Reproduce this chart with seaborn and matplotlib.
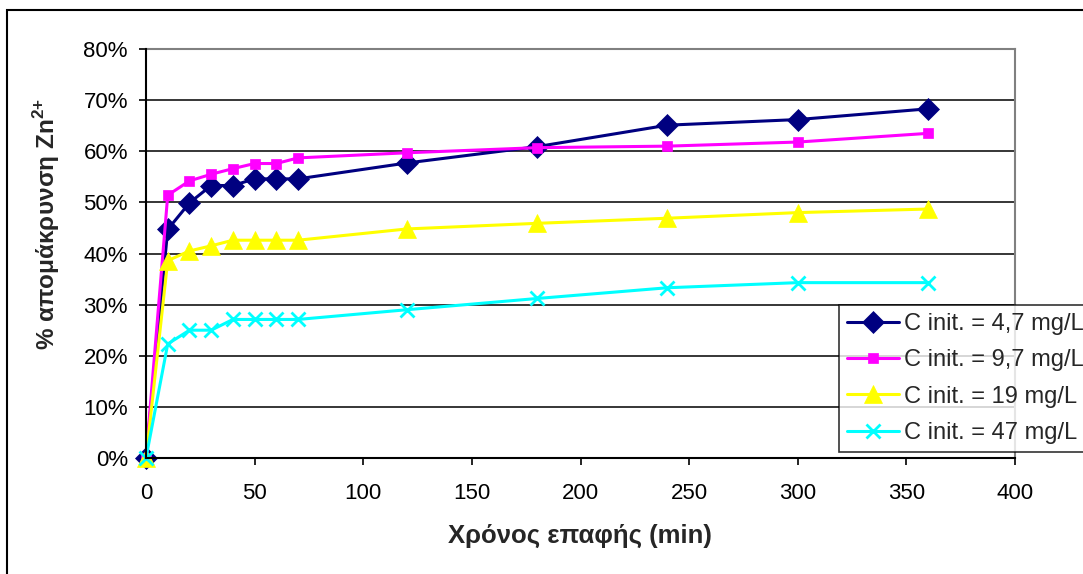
import matplotlib
matplotlib.use("Agg")
import matplotlib.pyplot as plt
import seaborn as sns
import numpy as np
from matplotlib.patches import Rectangle
from matplotlib.ticker import FuncFormatter

sns.set_theme(style="white")
plt.rcParams['font.family'] = ['Liberation Sans', 'DejaVu Sans']
plt.rcParams['mathtext.fontset'] = 'custom'
plt.rcParams['mathtext.rm'] = 'Liberation Sans'
plt.rcParams['mathtext.bf'] = 'Liberation Sans:bold'

time_min = [0, 10, 20, 30, 40, 50, 60, 70, 120, 180, 240, 300, 360]
c_4_7 = [0.0, 44.7, 49.9, 53.3, 53.3, 54.6, 54.6, 54.6, 57.7, 60.9, 65.1, 66.2, 68.3]
c_9_7 = [0.0, 51.4, 54.2, 55.5, 56.6, 57.6, 57.6, 58.7, 59.7, 60.7, 61.0, 61.8, 63.5]
c_19 = [0.0, 38.6, 40.5, 41.5, 42.6, 42.6, 42.6, 42.6, 44.8, 45.9, 46.9, 48.0, 48.7]
c_47 = [0.0, 22.3, 25.0, 25.0, 27.1, 27.1, 27.1, 27.1, 29.0, 31.2, 33.3, 34.3, 34.3]
labels = ["C init. = 4,7 mg/L", "C init. = 9,7 mg/L", "C init. = 19 mg/L", "C init. = 47 mg/L"]
x_ticks = [0, 50, 100, 150, 200, 250, 300, 350, 400]
y_ticks = [0, 10, 20, 30, 40, 50, 60, 70, 80]

series = [c_4_7, c_9_7, c_19, c_47]
colors = ["#000080", "#FF00FF", "#FFFF00", "#00FFFF"]
markers = ["D", "s", "^", "x"]
msizes = [11, 7.5, 13, 10]

W, H = 1083, 574
fig = plt.figure(figsize=(W / 100, H / 100), dpi=100)
fig.patch.set_facecolor("white")
ax = fig.add_axes([146 / W, 1 - 458 / H, (1015 - 146) / W, (458 - 49) / H])

for vals, lab, col, mk, ms in zip(series, labels, colors, markers, msizes):
    y = [v / 100 for v in vals]
    sns.lineplot(x=time_min, y=y, ax=ax, color=col, lw=2.2, marker=mk,
                 markersize=ms, markeredgecolor=col, markerfacecolor=col,
                 markeredgewidth=2 if mk == "x" else 0.5,
                 label=lab, clip_on=False, zorder=5)

ax.set_xlim(0, 400)
ax.set_ylim(0, 0.8)
ax.set_xticks(x_ticks)
ax.set_yticks([v / 100 for v in y_ticks])
ax.yaxis.set_major_formatter(FuncFormatter(lambda v, p: f"{v * 100:.0f}%"))
ax.set_xlabel("")
ax.set_ylabel("")

for yv in y_ticks[1:-1]:
    ax.axhline(yv / 100, color="black", lw=1.1, zorder=1)

for s in ["left", "bottom"]:
    ax.spines[s].set_color("black")
    ax.spines[s].set_linewidth(1.5)
for s in ["top", "right"]:
    ax.spines[s].set_color("#808080")
    ax.spines[s].set_linewidth(1.5)
ax.spines["left"].set_zorder(6)
ax.spines["bottom"].set_zorder(6)

ax.tick_params(axis="both", which="major", direction="out", length=5, width=1.2,
               color="black", labelsize=16, labelcolor="black")
ax.tick_params(axis="y", pad=8, left=True)
ax.tick_params(axis="x", pad=13, bottom=True)

fig.text(580 / W, 1 - 536 / H, "Χρόνος επαφής (min)", ha="center", va="center",
         fontsize=18.5, fontweight="bold")
fig.text(47 / W, 1 - 224 / H, "% απομάκρυνση Zn$^{\\mathbf{2{+}}}$", ha="center", va="center",
         rotation=90, fontsize=17.5, fontweight="bold")

leg = ax.legend(loc="upper left", bbox_to_anchor=(839 / W, 1 - 305 / H),
                bbox_transform=fig.transFigure, frameon=True, fancybox=False,
                fontsize=17, handlelength=2.2, handletextpad=0.2,
                labelspacing=0.6, borderpad=0.35, borderaxespad=0)
leg.get_frame().set_edgecolor("black")
leg.get_frame().set_linewidth(1.2)
leg.set_zorder(10)

fig.patches.append(Rectangle((7 / W, -0.1), 1.2, 1 - 10 / H + 0.1,
                             transform=fig.transFigure, fill=False,
                             edgecolor="black", lw=1.5))

fig.savefig("out.png", dpi=100, facecolor="white")
